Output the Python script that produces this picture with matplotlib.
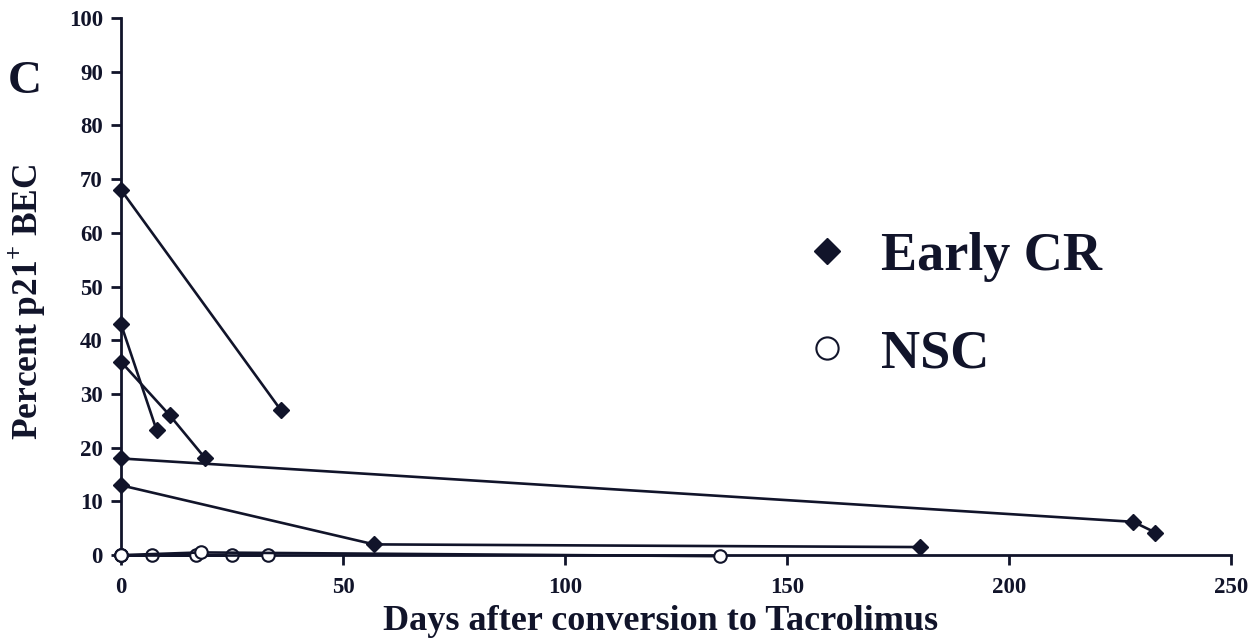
import matplotlib
matplotlib.use("Agg")
import matplotlib.pyplot as plt
from matplotlib.lines import Line2D

plt.rcParams['font.family'] = ['Liberation Serif', 'DejaVu Serif']
plt.rcParams['font.weight'] = 'bold'
plt.rcParams['mathtext.fontset'] = 'custom'
plt.rcParams['mathtext.rm'] = 'Liberation Serif:bold'
plt.rcParams['mathtext.bf'] = 'Liberation Serif:bold'

# Early CR patients (days, percent)
cr1_days = [0, 36]
cr1_vals = [68, 27]
cr2_days = [0, 8]
cr2_vals = [43, 23.3]
cr3_days = [0, 11, 19]
cr3_vals = [36, 26, 18]
cr4_days = [0, 228, 233]
cr4_vals = [18, 6.2, 4.2]
cr5_days = [0, 57, 180]
cr5_vals = [13, 2.0, 1.5]

# NSC patients
nsc1_days = [0, 7, 25]
nsc1_vals = [0, 0, 0]
nsc2_days = [0, 17, 33]
nsc2_vals = [0, 0, 0]
nsc3_days = [0, 18, 135]
nsc3_vals = [0, 0.5, -0.2]

xticks = [0, 50, 100, 150, 200, 250]
yticks = [0, 10, 20, 30, 40, 50, 60, 70, 80, 90, 100]

color = '#11142a'

fig = plt.figure(figsize=(12.58, 6.44), dpi=100)
ax = fig.add_axes([0.0962, 0.138, 0.8823, 0.834])

for d, v in [(cr1_days, cr1_vals), (cr2_days, cr2_vals), (cr3_days, cr3_vals),
             (cr4_days, cr4_vals), (cr5_days, cr5_vals)]:
    ax.plot(d, v, color=color, lw=1.9, marker='D', ms=8, mfc=color, mec=color,
            clip_on=False, zorder=3)

for d, v in [(nsc1_days, nsc1_vals), (nsc2_days, nsc2_vals), (nsc3_days, nsc3_vals)]:
    ax.plot(d, v, color=color, lw=1.9, marker='o', ms=9, mfc='white', mec=color,
            mew=1.5, clip_on=False, zorder=4)

ax.set_xlim(0, 250)
ax.set_ylim(0, 100)
ax.set_xticks(xticks)
ax.set_yticks(yticks)
ax.spines['top'].set_visible(False)
ax.spines['right'].set_visible(False)
for s in ['left', 'bottom']:
    ax.spines[s].set_linewidth(2)
    ax.spines[s].set_color(color)
ax.tick_params(direction='out', length=7, width=2, color=color, labelsize=16.5,
               labelcolor=color)
ax.tick_params(axis='x', pad=9)
ax.tick_params(axis='y', pad=6)
for lab in ax.get_xticklabels() + ax.get_yticklabels():
    lab.set_fontweight('bold')

ax.set_xlabel('Days after conversion to Tacrolimus', fontsize=26, fontweight='bold',
              color=color)
ax.xaxis.set_label_coords(0.486, -0.093)
ax.set_ylabel(r'Percent p21$^{+}$ BEC', fontsize=25.5, fontweight='bold', color=color)
ax.yaxis.set_label_coords(-0.066, 0.471)

handles = [Line2D([], [], ls='none', marker='D', ms=13, mfc=color, mec=color),
           Line2D([], [], ls='none', marker='o', ms=16, mfc='white', mec=color, mew=1.5)]
leg = ax.legend(handles, ['Early CR', 'NSC'], loc='upper left',
                bbox_to_anchor=(0.568, 0.692), frameon=False,
                prop={'family': 'Liberation Serif', 'weight': 'bold', 'size': 39},
                handletextpad=0.5, labelspacing=0.87, handlelength=1.0)
for t in leg.get_texts():
    t.set_color(color)

fig.text(0.006, 0.855, 'C', fontsize=34, fontweight='bold', color=color)

fig.savefig('out.png', dpi=100)
